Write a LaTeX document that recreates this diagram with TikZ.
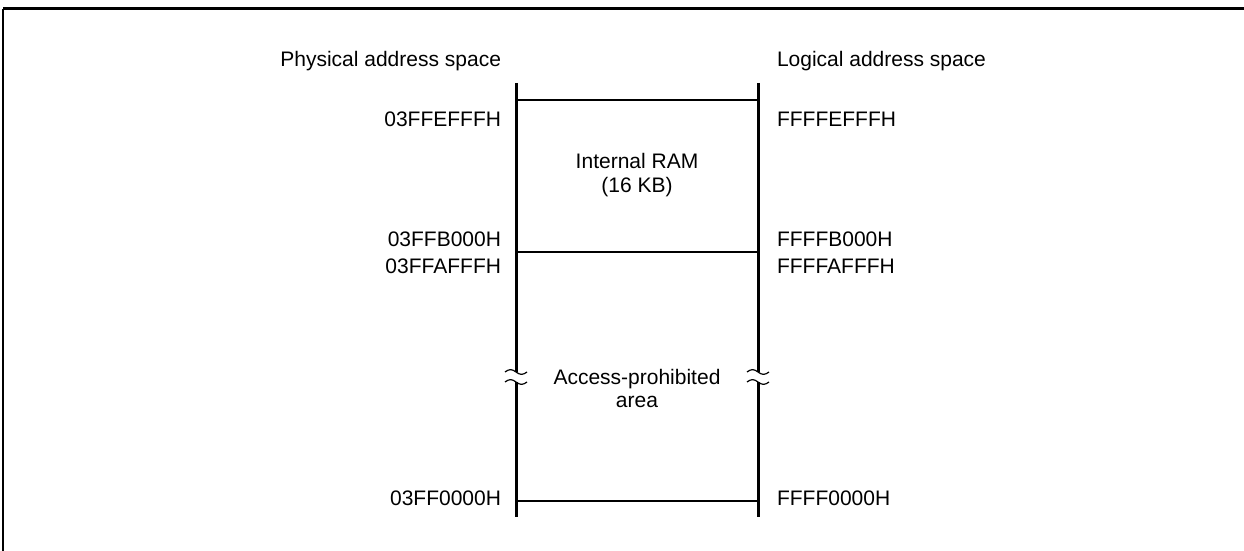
\documentclass[tikz,border=0pt]{standalone}
\usepackage{fontspec}
\setmainfont{Liberation Sans}
\tikzset{
  addr/.style={inner sep=0pt,font=\fontsize{10.5bp}{12.6bp}\selectfont},
  wall/.style={line width=1.5bp},
  bound/.style={line width=0.75bp},
  breakmark/.style={line width=0.6bp},
}
\begin{document}
\begin{tikzpicture}[line join=bevel,]
  \useasboundingbox (0bp,0bp) rectangle (622bp,275.5bp);
  \pgfsetlinewidth{1bp}
%%
\pgfsetcolor{black}
  % Frame
  \draw [line width=1.5bp] (1.5bp,271bp) -- (622bp,271bp);
  \draw [line width=1bp] (1.5bp,271bp) -- (1.5bp,0bp);
  % Coordinates: walls of the map
  \coordinate (phys top) at (258bp,234bp);
  \coordinate (phys cut1) at (258bp,89.5bp);
  \coordinate (phys cut2) at (258bp,84.5bp);
  \coordinate (phys bot) at (258bp,17bp);
  \coordinate (log top) at (379bp,234bp);
  \coordinate (log cut1) at (379bp,89.5bp);
  \coordinate (log cut2) at (379bp,84.5bp);
  \coordinate (log bot) at (379bp,17bp);
  % Edge: walls
  \draw [wall] (phys top) -- (phys cut1);
  \draw [wall] (phys cut2) -- (phys bot);
  \draw [wall] (log top) -- (log cut1);
  \draw [wall] (log cut2) -- (log bot);
  % Edge: boundaries
  \draw [bound] (258bp,225.5bp) coordinate (ram top l) -- (379bp,225.5bp) coordinate (ram top r);
  \draw [bound] (258bp,149.5bp) coordinate (ram bot l) -- (379bp,149.5bp) coordinate (ram bot r);
  \draw [bound] (258bp,25bp) coordinate (area bot l) -- (379bp,25bp) coordinate (area bot r);
  % Edge: break marks
  \foreach \c in {phys cut1,phys cut2,log cut1,log cut2}
    \draw [breakmark] ([xshift=-5.5bp]\c) sin ([xshift=-2.75bp,yshift=1.2bp]\c) cos (\c)
      sin ([xshift=2.75bp,yshift=-1.2bp]\c) cos ([xshift=5.5bp]\c);
  % Node: headings
  \node [addr,anchor=base east] (phys head) at (251bp,242bp) {Physical address space};
  \node [addr,anchor=base west] (log head) at (388bp,242bp) {Logical address space};
  % Node: physical addresses
  \node [addr,anchor=base east] (p1) at (251bp,212bp) {03FFEFFFH};
  \node [addr,anchor=base east] (p2) at (251bp,152bp) {03FFB000H};
  \node [addr,anchor=base east] (p3) at (251bp,138.5bp) {03FFAFFFH};
  \node [addr,anchor=base east] (p4) at (251bp,23bp) {03FF0000H};
  % Node: logical addresses
  \node [addr,anchor=base west] (l1) at (388bp,212bp) {FFFFEFFFH};
  \node [addr,anchor=base west] (l2) at (388bp,152bp) {FFFFB000H};
  \node [addr,anchor=base west] (l3) at (388bp,138.5bp) {FFFFAFFFH};
  \node [addr,anchor=base west] (l4) at (388bp,23bp) {FFFF0000H};
  % Node: areas
  \node [addr,anchor=base] (ram) at (318.5bp,191bp) {Internal RAM};
  \node [addr,anchor=base] (ram size) at (318.5bp,179bp) {(16 KB)};
  \node [addr,anchor=base] (prohib) at (318.5bp,83bp) {Access-prohibited};
  \node [addr,anchor=base] (prohib2) at (318.5bp,71.5bp) {area};
%
\end{tikzpicture}
\end{document}
